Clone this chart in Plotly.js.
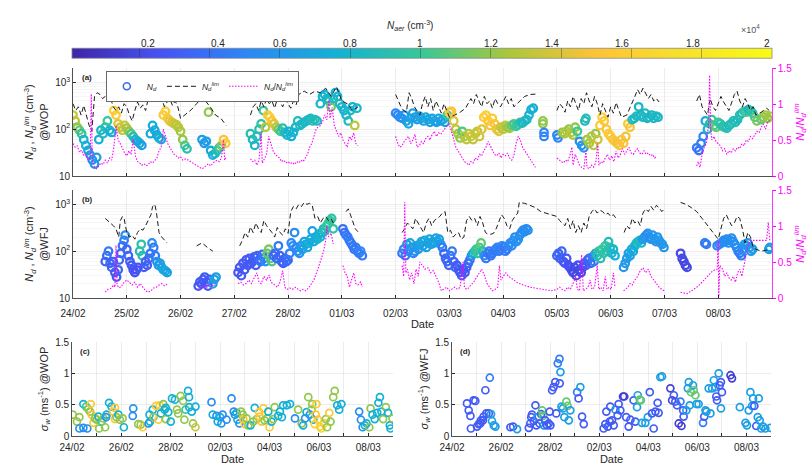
<!DOCTYPE html>
<html><head><meta charset="utf-8">
<script src="https://cdn.plot.ly/plotly-3.0.1.min.js"></script>
<style>html,body{margin:0;padding:0;background:#fff}#chart{width:811px;height:468px}</style>
</head><body><div id="chart"></div>
<script>
// ---- tick labels ----
const dayTicks = [0,1,2,3,4,5,6,7,8,9,10,11,12];
const dayLabels = ['24/02','25/02','26/02','27/02','28/02','01/03','02/03','03/03','04/03','05/03','06/03','07/03','08/03'];
const dayTicks2 = [0,1,2,3,4,5,6,7,8,9,10,11,12,13];
const dayLabels2 = ['24/02','','26/02','','28/02','','02/03','','04/03','','06/03','','08/03',''];
const cbTicks = [0.2,0.4,0.6,0.8,1,1.2,1.4,1.6,1.8,2];
const cbLabels = ['0.2','0.4','0.6','0.8','1','1.2','1.4','1.6','1.8','2'];
const logTicks = [10,100,1000];
const logLabels = ['10','10<sup>2</sup>','10<sup>3</sup>'];
const ratioTicks = [0,0.5,1,1.5];
const ratioLabels = ['0','0.5','1','1.5'];

// ---- panel (a) @WOP : [day since 24/02, Nd (cm-3), Naer (x1e4 cm-3)] ----
const aNdRows = [
[0.00,200,1.35],[0.04,150,1.3],[0.08,110,1.2],[0.12,95,1.1],[0.16,80,0.95],[0.20,60,0.8],[0.24,45,0.75],[0.28,35,0.7],[0.32,28,0.65],[0.36,22,0.55],[0.40,18,0.6],[0.44,25,0.65],[0.48,60,0.75],[0.52,95,0.8],[0.56,80,0.85],[0.60,110,0.9],[0.64,150,1.0],[0.68,95,0.8],[0.72,85,0.75],[0.76,250,1.6],[0.80,200,1.55],[0.84,130,1.4],[0.88,110,1.35],[0.92,95,1.3],[0.96,120,1.35],[1.00,105,1.25],[1.04,90,1.2],[1.08,80,1.05],[1.12,70,0.9],[1.16,60,0.8],[1.20,55,0.75],[1.24,50,0.7],[1.28,45,0.65],
[1.44,80,0.7],[1.48,120,0.75],[1.52,95,0.7],[1.56,75,0.7],[1.60,65,0.75],[1.64,60,0.75],[1.68,200,1.55],[1.72,240,1.6],[1.76,170,1.55],[1.80,150,1.45],[1.84,140,1.4],[1.88,130,1.35],[1.92,125,1.3],[1.96,110,1.3],[2.00,90,1.25],[2.04,60,1.2],[2.08,45,1.05],[2.12,38,0.9],
[2.40,60,0.65],[2.44,50,0.6],[2.48,55,0.65],[2.52,230,1.2],[2.56,35,0.7],[2.60,28,0.75],[2.64,30,0.8],[2.68,35,0.9],[2.72,40,1.0],[2.76,45,1.15],[2.80,60,1.5],[2.84,50,1.55],
[3.30,80,0.9],[3.34,60,0.85],[3.38,45,0.8],[3.42,70,0.9],[3.46,100,0.9],[3.50,130,0.95],[3.54,250,1.0],[3.58,110,1.3],[3.62,200,1.55],[3.66,180,1.6],[3.70,150,1.5],[3.74,130,1.4],[3.78,110,1.3],[3.82,100,1.15],[3.86,90,1.0],[3.90,105,0.9],[3.94,85,0.85],[3.98,75,0.8],[4.02,90,0.75],[4.06,70,0.75],[4.10,85,0.8],[4.14,110,0.8],[4.18,150,0.85],[4.22,120,0.85],[4.26,130,0.85],[4.30,140,0.8],[4.34,150,0.85],[4.38,160,0.8],[4.42,170,0.85],[4.46,150,0.9],[4.50,160,0.85],[4.54,150,0.85],[4.60,350,0.8],[4.64,500,0.8],[4.68,550,0.75],[4.72,450,0.8],[4.76,400,0.85],[4.80,300,1.15],[4.84,450,0.85],[4.88,600,0.75],[4.92,500,0.8],[4.96,350,0.85],[5.00,300,0.8],[5.04,250,0.75],[5.08,200,0.8],[5.12,150,0.85],[5.16,250,0.85],[5.20,300,0.75],[5.24,120,1.3],[5.28,280,0.8],
[6.00,220,0.5],[6.04,200,0.5],[6.08,180,0.55],[6.12,170,0.55],[6.16,200,0.6],[6.20,150,0.6],[6.24,130,0.7],[6.28,170,0.7],[6.32,220,0.65],[6.36,180,0.65],[6.40,160,0.6],[6.44,190,0.65],[6.48,170,0.7],[6.52,150,0.65],[6.56,180,0.7],[6.60,160,0.7],[6.64,140,0.65],[6.68,170,0.65],[6.72,150,0.7],[6.76,140,0.65],[6.80,170,0.7],[6.84,150,0.65],[6.88,160,0.7],[6.92,140,0.65],[6.96,200,1.0],[7.00,230,1.55],[7.04,240,1.5],[7.08,150,1.4],[7.12,100,1.3],[7.16,80,1.25],[7.20,65,1.2],[7.24,90,1.05],[7.28,70,1.25],[7.32,60,1.3],[7.36,80,1.3],[7.40,70,1.35],[7.44,60,1.3],[7.48,80,1.35],[7.52,90,1.3],[7.56,70,1.35],[7.60,100,1.4],[7.64,180,1.55],[7.68,200,1.6],[7.72,150,1.55],[7.76,120,1.5],[7.80,170,1.55],[7.84,130,1.5],[7.88,100,1.45],[7.92,90,1.4],[7.96,110,1.35],[8.00,100,1.3],[8.04,120,1.3],[8.08,110,1.2],[8.12,105,1.25],[8.16,120,1.1],[8.20,130,1.05],[8.24,115,1.0],[8.28,125,0.95],[8.32,140,0.9],[8.36,135,0.85],[8.40,150,0.85],[8.44,160,0.8],[8.48,200,0.8],[8.52,260,0.75],[8.56,280,0.75],
[8.74,150,1.2],[8.74,130,1.2],[8.76,85,0.5],[8.76,70,0.5],
[9.00,75,0.5],[9.02,65,0.5],[9.10,85,1.2],[9.14,80,1.25],[9.18,90,1.3],[9.22,100,1.2],[9.26,85,1.3],[9.30,75,1.25],[9.34,110,1.2],[9.38,90,1.0],[9.42,55,0.55],[9.46,45,0.55],[9.50,40,0.6],[9.52,150,0.8],[9.54,170,0.9],[9.56,60,1.2],[9.60,50,1.25],[9.64,70,1.3],[9.68,45,1.3],[9.72,80,1.2],[9.76,60,1.35],[9.80,120,1.55],[9.84,180,1.6],[9.88,150,1.55],[9.92,100,1.5],[9.96,80,1.55],[10.00,70,1.55],[10.04,60,1.5],[10.08,55,1.5],[10.12,50,1.45],[10.16,45,1.5],[10.20,60,1.5],[10.24,50,1.5],[10.28,70,1.45],[10.32,130,1.55],[10.36,110,1.5],[10.40,160,0.85],[10.44,170,0.8],[10.48,190,0.85],[10.52,300,0.8],[10.56,200,0.8],[10.60,180,0.85],[10.64,220,0.85],[10.68,170,0.8],[10.72,180,0.85],[10.76,200,0.8],[10.80,170,0.85],[10.84,190,0.85],[10.88,180,0.8],
[11.60,40,0.45],[11.64,35,0.4],[11.68,50,0.45],[11.72,70,0.5],[11.76,150,0.7],[11.80,100,0.8],[11.84,130,0.9],[11.88,160,1.0],[11.92,120,1.05],[11.96,110,1.1],[12.00,140,1.0],[12.04,130,0.95],[12.08,115,0.9],[12.12,110,0.95],[12.16,105,0.9],[12.20,120,0.85],[12.24,130,0.9],[12.28,150,0.85],[12.32,140,0.9],[12.36,160,0.85],[12.40,200,0.9],[12.44,220,0.85],[12.48,240,0.95],[12.52,230,1.05],[12.56,260,0.8],[12.60,250,0.9],[12.64,220,0.95],[12.68,180,1.05],[12.72,150,1.15],[12.80,160,1.1],[12.84,180,1.15],[12.88,200,1.25],[12.92,170,1.2],[12.96,190,1.25]
];
// [day, Nd_lim] (null = gap)
const aLimRows = [
[0.00,350],[0.05,250],[0.10,300],[0.15,200],[0.20,320],[0.25,200],[0.30,120],[0.35,90],[0.40,500],[0.45,600],[0.50,550],[0.55,450],[0.60,500],[0.65,600],[0.70,450],[0.75,300],[0.80,250],[0.85,300],[0.90,220],[0.95,350],[1.00,300],[1.05,200],[1.10,150],[1.15,250],[1.20,380],[1.25,280],[1.30,330],[1.35,250],[1.40,450],[1.45,600],[1.50,520],[1.55,400],[1.60,550],[1.65,450],[1.70,300],[1.75,380],[1.80,450],[1.85,320],[1.90,400],[1.95,300],[2.00,170],[2.10,210],[2.20,260],[2.30,350],[2.40,480],[2.45,420],[2.55,300],[2.65,200],[2.75,170],[2.85,120],[2.9,null],
[3.30,200],[3.35,300],[3.40,350],[3.45,250],[3.50,400],[3.55,300],[3.60,450],[3.65,350],[3.70,400],[3.75,280],[3.80,450],[3.85,380],[3.90,300],[3.95,420],[4.00,350],[4.05,280],[4.10,400],[4.15,330],[4.20,550],[4.30,650],[4.40,550],[4.50,650],[4.60,600],[4.70,750],[4.80,500],[4.90,800],[5.00,400],[5.10,350],[5.20,250],[5.30,300],[5.5,null],
[6.00,550],[6.05,400],[6.10,300],[6.15,250],[6.20,230],[6.25,600],[6.30,450],[6.35,300],[6.40,250],[6.45,200],[6.50,350],[6.55,500],[6.60,300],[6.65,450],[6.70,250],[6.75,400],[6.80,300],[6.85,220],[6.90,350],[6.95,250],[7.00,180],[7.10,200],[7.20,230],[7.30,280],[7.35,350],[7.40,450],[7.45,350],[7.50,550],[7.55,400],[7.60,300],[7.65,500],[7.70,350],[7.75,400],[7.80,280],[7.85,450],[7.90,350],[7.95,300],[8.00,400],[8.05,500],[8.10,350],[8.15,450],[8.20,300],[8.30,380],[8.40,500],[8.50,550],[8.60,560],[8.8,null],
[9.00,250],[9.05,350],[9.10,300],[9.15,230],[9.20,400],[9.25,300],[9.30,500],[9.35,350],[9.40,250],[9.45,450],[9.50,350],[9.55,600],[9.60,400],[9.65,300],[9.70,500],[9.75,350],[9.80,200],[9.85,350],[9.90,250],[9.95,180],[10.00,300],[10.05,220],[10.10,370],[10.15,250],[10.20,180],[10.30,200],[10.40,350],[10.45,500],[10.50,700],[10.55,550],[10.60,750],[10.65,600],[10.70,450],[10.75,550],[10.80,400],[10.85,450],[10.90,380],[11.2,null],
[11.60,400],[11.65,550],[11.70,300],[11.75,250],[11.80,200],[11.85,450],[11.90,300],[11.95,250],[12.00,350],[12.05,500],[12.10,380],[12.15,300],[12.20,250],[12.30,550],[12.35,650],[12.40,400],[12.45,300],[12.50,450],[12.55,350],[12.60,250],[12.65,300],[12.70,200],[12.80,230],[12.90,280],[12.95,250]
];
// [day, Nd/Nd_lim]
const aRatioRows = [
[0.00,0.45],[0.04,0.40],[0.08,0.42],[0.12,0.33],[0.16,0.36],[0.20,0.28],[0.24,0.30],[0.28,0.22],[0.32,0.25],[0.34,1.14],[0.36,0.20],[0.40,0.12],[0.44,0.10],[0.48,0.14],[0.52,0.18],[0.56,0.16],[0.60,0.22],[0.64,0.18],[0.68,0.25],[0.72,0.22],[0.76,0.40],[0.80,0.70],[0.84,0.50],[0.88,0.45],[0.92,0.38],[0.96,0.32],[1.00,0.28],[1.04,0.35],[1.08,0.30],[1.12,0.52],[1.16,0.28],[1.20,0.20],[1.24,0.18],[1.28,0.15],[1.32,0.17],[1.36,0.14],[1.40,0.16],[1.44,0.20],[1.48,0.18],[1.52,0.22],[1.56,0.25],[1.60,0.35],[1.64,0.40],[1.68,0.65],[1.72,0.55],[1.76,0.45],[1.80,0.40],[1.84,0.35],[1.88,0.30],[1.92,0.28],[1.96,0.25],[2.00,0.27],[2.04,0.22],[2.10,0.24],[2.40,0.10],[2.44,0.12],[2.48,0.15],[2.52,0.17],[2.56,0.14],[2.60,0.18],[2.64,0.20],[2.68,0.22],[2.72,0.20],[2.76,0.25],[2.80,0.50],[2.82,0.22],[2.85,0.27],[3.0,null],
[3.30,0.24],[3.34,0.20],[3.38,0.22],[3.42,0.15],[3.46,0.22],[3.50,0.60],[3.52,0.18],[3.56,0.24],[3.60,0.30],[3.64,0.55],[3.68,0.45],[3.72,0.35],[3.76,0.30],[3.80,0.28],[3.84,0.25],[3.88,0.20],[3.92,0.22],[3.96,0.18],[4.00,0.20],[4.04,0.17],[4.08,0.19],[4.12,0.16],[4.16,0.20],[4.20,0.18],[4.24,0.22],[4.28,0.20],[4.32,0.25],[4.36,0.30],[4.40,0.40],[4.44,0.45],[4.48,0.55],[4.52,0.65],[4.56,0.68],[4.60,0.70],[4.64,0.75],[4.68,0.85],[4.72,0.78],[4.76,1.05],[4.78,0.80],[4.82,0.95],[4.86,0.70],[4.90,0.62],[4.94,0.55],[4.98,0.60],[5.02,0.50],[5.06,0.45],[5.10,0.40],[5.14,0.55],[5.18,0.50],[5.22,0.60],[5.26,0.45],[5.30,0.42],[5.5,null],
[6.00,0.55],[6.04,0.45],[6.08,0.40],[6.12,0.42],[6.16,0.48],[6.20,0.52],[6.24,0.55],[6.28,0.45],[6.32,0.50],[6.36,0.58],[6.40,0.40],[6.44,0.42],[6.48,0.48],[6.52,0.45],[6.56,0.52],[6.60,0.55],[6.64,0.50],[6.68,0.58],[6.72,0.62],[6.76,0.55],[6.80,0.60],[6.84,0.58],[6.88,0.62],[6.92,0.65],[6.96,0.70],[7.00,0.72],[7.04,0.60],[7.08,0.50],[7.12,0.40],[7.16,0.35],[7.20,0.30],[7.24,0.25],[7.28,0.20],[7.32,0.18],[7.36,0.15],[7.40,0.20],[7.44,0.18],[7.48,0.25],[7.52,0.22],[7.56,0.30],[7.60,0.28],[7.64,0.35],[7.68,0.40],[7.72,0.48],[7.76,0.42],[7.80,0.35],[7.84,0.30],[7.88,0.28],[7.92,0.32],[7.96,0.25],[8.00,0.30],[8.04,0.28],[8.08,0.32],[8.12,0.25],[8.16,0.22],[8.20,0.28],[8.24,0.45],[8.28,0.55],[8.32,0.50],[8.36,0.40],[8.40,0.35],[8.44,0.30],[8.48,0.25],[8.52,0.20],[8.56,0.15],[8.60,0.12],[8.8,null],
[9.00,0.25],[9.04,0.22],[9.08,0.20],[9.12,0.18],[9.16,0.22],[9.20,0.20],[9.24,0.28],[9.28,0.40],[9.30,0.15],[9.34,0.30],[9.38,0.22],[9.42,0.15],[9.46,0.12],[9.50,0.10],[9.54,0.35],[9.56,0.12],[9.60,0.10],[9.64,0.15],[9.68,0.12],[9.72,0.18],[9.76,0.45],[9.78,0.15],[9.82,0.20],[9.86,0.18],[9.90,0.25],[9.94,0.30],[9.98,0.22],[10.02,0.28],[10.06,0.20],[10.10,0.35],[10.14,0.25],[10.18,0.30],[10.22,0.38],[10.26,0.30],[10.30,0.35],[10.34,0.40],[10.38,0.32],[10.42,0.30],[10.46,0.35],[10.50,0.38],[10.54,0.32],[10.58,0.30],[10.62,0.35],[10.66,0.30],[10.70,0.32],[10.74,0.28],[10.78,0.30],[10.82,0.25],[10.86,0.28],[11.2,null],
[11.60,0.14],[11.63,0.20],[11.66,0.12],[11.70,0.30],[11.74,0.40],[11.78,0.45],[11.80,0.60],[11.82,0.70],[11.84,1.40],[11.86,0.65],[11.88,0.50],[11.92,0.55],[11.96,0.48],[12.00,0.45],[12.04,0.42],[12.08,0.35],[12.12,0.38],[12.16,0.30],[12.20,0.35],[12.24,0.32],[12.28,0.38],[12.32,0.35],[12.36,0.40],[12.40,0.38],[12.44,0.45],[12.48,0.42],[12.52,0.50],[12.56,0.48],[12.60,0.55],[12.64,0.52],[12.68,0.58],[12.72,0.62],[12.76,0.60],[12.80,0.68],[12.84,0.72],[12.88,0.65],[12.92,0.75],[12.96,0.78]
];

// ---- panel (b) @WFJ ----
const bNdRows = [
[0.60,60,0.35],[0.63,80,0.35],[0.66,100,0.45],[0.69,55,0.35],[0.72,45,0.33],[0.75,60,0.35],[0.78,35,0.3],[0.81,28,0.3],[0.84,40,0.35],[0.86,65,0.35],[0.89,90,0.35],[0.92,130,0.4],[0.95,170,0.45],[0.97,220,0.55],[1.00,110,0.35],[1.03,80,0.35],[1.06,60,0.3],[1.09,50,0.28],[1.12,40,0.25],[1.15,35,0.25],[1.18,40,0.25],[1.21,45,0.28],[1.24,100,0.9],[1.27,140,0.95],[1.29,80,0.9],[1.32,45,0.3],[1.35,60,0.35],[1.38,50,0.3],[1.41,70,0.35],[1.44,90,0.4],[1.47,150,0.55],[1.50,120,0.45],[1.53,80,0.45],[1.56,60,0.55],[1.59,50,0.6],[1.62,55,0.65],[1.65,45,0.65],[1.68,40,0.7],[1.72,38,0.7],[1.75,35,0.65],
[2.33,18,0.28],[2.36,22,0.28],[2.39,20,0.3],[2.42,25,0.3],[2.45,28,0.3],[2.48,22,0.28],[2.51,18,0.28],[2.54,25,0.3],[2.60,20,0.65],[2.63,25,0.65],[2.66,28,0.65],
[3.07,35,0.28],[3.10,45,0.28],[3.13,30,0.28],[3.16,55,0.28],[3.19,40,0.28],[3.22,65,0.3],[3.25,50,0.3],[3.28,70,0.28],[3.31,55,0.28],[3.34,60,0.3],[3.37,75,0.3],[3.40,50,0.3],[3.43,80,0.35],[3.46,65,0.35],[3.49,60,0.4],[3.52,85,0.35],[3.55,70,0.45],[3.58,60,0.55],[3.61,90,1.1],[3.64,110,1.15],[3.67,70,1.1],[3.70,60,1.05],[3.73,80,0.4],[3.76,90,0.35],[3.79,70,0.35],[3.82,130,0.45],[3.85,80,0.35],[3.88,60,0.35],[3.91,55,0.3],[3.94,70,0.35],[3.97,60,0.35],[4.00,65,0.4],[4.03,90,0.45],[4.06,150,0.5],[4.09,130,0.55],[4.12,250,0.55],[4.15,120,0.5],[4.18,100,0.55],[4.21,90,0.55],[4.24,130,0.6],[4.27,110,0.65],[4.30,160,0.65],[4.33,140,0.7],[4.36,120,0.7],[4.39,150,0.75],[4.42,180,0.7],[4.45,270,0.65],[4.48,160,0.7],[4.51,200,0.75],[4.54,180,0.75],[4.57,230,0.75],[4.60,200,0.8],[4.63,250,0.75],[4.66,300,0.85],[4.69,280,0.9],[4.72,350,0.95],[4.75,400,1.0],[4.78,450,1.0],[4.81,500,0.95],[4.84,300,0.95],
[5.02,300,0.4],[5.05,250,0.4],[5.08,220,0.45],[5.11,200,0.45],[5.14,170,0.45],[5.17,150,0.45],[5.20,130,0.45],[5.23,110,0.4],[5.26,120,0.45],[5.29,100,0.45],[5.32,90,0.45],[5.35,100,0.5],[5.38,80,0.45],
[6.12,90,0.45],[6.15,110,0.5],[6.18,80,0.45],[6.21,140,0.65],[6.24,100,0.55],[6.27,150,0.7],[6.30,120,0.6],[6.33,90,0.5],[6.36,100,0.55],[6.39,130,0.65],[6.42,110,0.6],[6.45,140,0.65],[6.48,160,0.7],[6.51,130,0.65],[6.54,170,0.7],[6.57,120,0.65],[6.60,150,0.65],[6.63,180,0.7],[6.66,140,0.65],[6.69,160,0.7],[6.72,150,0.65],[6.75,190,0.65],[6.78,160,0.7],[6.81,180,0.65],[6.84,140,0.6],[6.87,120,0.45],[6.90,90,0.35],[6.93,70,0.35],[6.96,60,0.35],[6.99,50,0.35],[7.02,80,0.4],[7.05,100,0.45],[7.08,60,0.35],[7.11,45,0.35],[7.14,50,0.3],[7.17,40,0.3],[7.20,35,0.28],[7.23,30,0.28],[7.26,40,0.28],[7.29,35,0.3],[7.32,45,0.3],[7.35,55,0.35],[7.38,65,0.4],[7.41,80,0.55],[7.44,90,0.7],[7.47,100,0.9],[7.50,110,1.0],[7.53,90,1.0],[7.56,120,1.05],[7.59,150,1.1],[7.62,100,0.9],[7.65,80,0.55],[7.68,70,0.45],[7.71,90,0.45],[7.74,100,0.45],[7.77,80,0.4],[7.80,90,0.45],[7.83,100,0.45],[7.86,110,0.45],[7.89,120,0.5],[7.92,100,0.45],[7.95,110,0.45],[7.98,130,0.5],[8.01,120,0.45],[8.04,100,0.45],[8.07,110,0.45],[8.10,130,0.5],[8.13,150,0.55],[8.16,130,0.5],[8.19,170,0.55],[8.22,200,0.55],[8.25,160,0.55],[8.28,180,0.6],[8.31,220,0.55],[8.34,250,0.55],[8.37,280,0.55],[8.40,260,0.55],[8.43,300,0.55],[8.46,280,0.55],
[9.00,80,0.35],[9.03,90,0.35],[9.06,70,0.3],[9.09,100,0.35],[9.12,60,0.3],[9.15,55,0.28],[9.18,70,0.28],[9.21,50,0.25],[9.24,45,0.25],[9.27,40,0.25],[9.30,35,0.2],[9.33,45,0.2],[9.36,30,0.2],[9.39,50,0.25],[9.42,40,0.2],[9.45,35,0.2],[9.48,45,0.25],[9.51,55,0.28],[9.54,50,0.28],[9.57,65,0.33],[9.60,70,0.35],[9.63,55,0.35],[9.66,75,0.45],[9.69,60,0.45],[9.72,90,0.7],[9.75,80,0.9],[9.78,100,0.95],[9.81,70,0.9],[9.84,110,1.0],[9.87,90,0.95],[9.90,130,1.0],[9.93,100,0.9],[9.96,160,0.9],[9.99,120,0.9],[10.02,90,0.85],[10.05,110,0.8],[10.08,80,0.75],
[10.24,45,0.6],[10.27,55,0.6],[10.30,70,0.65],[10.33,90,0.65],[10.36,80,0.65],[10.39,110,0.7],[10.42,100,0.7],[10.45,130,0.75],[10.48,150,0.8],[10.51,160,0.85],[10.54,170,0.85],[10.57,150,0.8],[10.60,180,0.6],[10.63,200,0.6],[10.66,220,0.55],[10.69,240,0.55],[10.72,200,0.55],[10.75,180,0.55],[10.78,220,0.6],[10.81,180,0.6],[10.84,160,0.6],[10.87,200,0.6],[10.90,170,0.6],[10.93,150,0.6],[10.96,140,0.6],[10.99,120,0.6],
[11.30,90,0.22],[11.33,70,0.2],[11.36,60,0.2],[11.39,50,0.2],[11.42,45,0.22],
[11.75,150,0.45],[11.78,140,0.45],[11.98,130,0.5],[12.02,140,0.5],[12.06,150,0.55],[12.10,170,0.55],[12.13,160,0.55],[12.16,180,0.55],[12.19,150,0.55],[12.22,170,0.55],[12.25,190,0.55],[12.28,160,0.55],[12.31,140,0.55],[12.34,120,0.55],[12.37,100,0.5],[12.40,90,0.45],[12.43,80,0.45],[12.46,110,0.55],[12.49,140,0.6],[12.52,130,0.6],[12.55,150,0.6],[12.58,120,0.6],[12.61,100,0.6],[12.64,110,0.65],[12.94,110,0.65],[12.96,120,0.65]
];
const bLimRows = [
[0.60,500],[0.65,450],[0.70,400],[0.75,350],[0.80,300],[0.85,200],[0.88,450],[0.92,550],[0.95,500],[1.00,250],[1.05,200],[1.10,220],[1.15,180],[1.20,250],[1.25,300],[1.30,280],[1.35,350],[1.40,450],[1.45,600],[1.48,900],[1.52,1000],[1.55,700],[1.60,250],[1.65,200],[1.70,170],[1.75,150],[2.0,null],
[2.30,130],[2.40,150],[2.50,120],[2.60,100],[2.8,null],
[3.10,130],[3.15,170],[3.20,250],[3.25,200],[3.30,330],[3.35,250],[3.40,400],[3.45,300],[3.50,250],[3.55,450],[3.60,350],[3.65,300],[3.70,250],[3.75,200],[3.80,320],[3.85,250],[3.90,220],[3.95,300],[4.00,240],[4.05,700],[4.10,900],[4.15,800],[4.20,1000],[4.25,900],[4.30,1100],[4.35,1000],[4.40,1050],[4.45,950],[4.50,500],[4.55,550],[4.60,400],[4.65,500],[4.70,550],[4.75,450],[4.80,500],[4.84,400],[4.95,null],
[5.08,700],[5.12,800],[5.16,600],[5.20,450],[5.25,300],[5.30,260],[5.6,null],
[6.12,250],[6.17,300],[6.22,400],[6.27,350],[6.32,300],[6.37,500],[6.42,400],[6.47,300],[6.52,250],[6.57,400],[6.62,500],[6.67,350],[6.72,450],[6.77,500],[6.82,550],[6.87,650],[6.92,700],[6.97,250],[7.02,280],[7.07,200],[7.12,230],[7.17,250],[7.22,180],[7.27,200],[7.32,450],[7.37,550],[7.42,450],[7.47,500],[7.52,350],[7.57,550],[7.62,400],[7.67,250],[7.72,230],[7.77,230],[7.82,240],[7.87,300],[7.92,450],[7.97,600],[8.02,500],[8.07,350],[8.12,300],[8.17,450],[8.22,550],[8.27,650],[8.30,1100],[8.40,1050],[8.50,950],[8.60,850],[8.70,700],[8.80,650],[8.90,600],[9.00,550],[9.05,450],[9.10,400],[9.15,350],[9.20,500],[9.25,300],[9.30,450],[9.35,250],[9.40,350],[9.45,250],[9.50,400],[9.55,300],[9.60,550],[9.65,700],[9.70,800],[9.75,650],[9.80,750],[9.85,700],[9.90,600],[9.95,650],[10.00,550],[10.05,600],[10.10,500],[10.17,null],
[10.25,250],[10.30,350],[10.35,300],[10.40,500],[10.45,400],[10.50,450],[10.55,350],[10.60,650],[10.65,800],[10.70,700],[10.75,900],[10.80,750],[10.85,950],[10.90,850],[10.95,700],[11.00,800],[11.15,null],
[11.30,1100],[11.40,1000],[11.50,850],[11.60,700],[11.70,500],[11.80,350],[11.90,250],[12.00,180],[12.10,500],[12.15,600],[12.20,450],[12.25,350],[12.30,400],[12.35,550],[12.40,500],[12.45,300],[12.50,150],[12.55,250],[12.60,200],[12.65,120],[12.70,110],[12.80,100],[12.90,105],[12.96,100]
];
const bRatioRows = [
[0.60,0.08],[0.65,0.12],[0.70,0.13],[0.75,0.18],[0.78,0.15],[0.80,0.73],[0.82,0.18],[0.86,0.14],[0.90,0.16],[0.95,0.22],[1.00,0.25],[1.05,0.22],[1.10,0.18],[1.15,0.22],[1.20,0.15],[1.25,0.20],[1.30,0.15],[1.35,0.10],[1.40,0.08],[1.45,0.10],[1.50,0.14],[1.55,0.15],[1.60,0.18],[1.65,0.20],[1.70,0.17],[1.75,0.19],[2.0,null],
[2.33,0.12],[2.38,0.14],[2.43,0.16],[2.48,0.14],[2.53,0.18],[2.60,0.16],[2.66,0.20],[2.8,null],
[3.07,0.20],[3.12,0.22],[3.17,0.18],[3.22,0.20],[3.27,0.25],[3.32,0.20],[3.37,0.28],[3.42,0.35],[3.46,0.22],[3.50,0.20],[3.55,0.30],[3.60,0.25],[3.65,0.32],[3.68,0.22],[3.72,0.20],[3.76,0.18],[3.80,0.15],[3.85,0.22],[3.90,0.38],[3.94,0.15],[3.98,0.12],[4.03,0.14],[4.08,0.12],[4.13,0.15],[4.18,0.12],[4.23,0.10],[4.28,0.12],[4.33,0.10],[4.38,0.14],[4.43,0.20],[4.48,0.25],[4.53,0.35],[4.58,0.45],[4.62,0.55],[4.66,0.65],[4.70,0.80],[4.72,1.00],[4.75,0.85],[4.80,0.90],[4.84,0.75],[4.95,null],
[5.02,0.45],[5.06,0.35],[5.10,0.30],[5.14,0.15],[5.18,0.25],[5.22,0.35],[5.26,0.20],[5.30,0.18],[5.35,0.22],[5.38,0.15],[5.6,null],
[6.12,0.45],[6.15,0.30],[6.17,1.33],[6.19,0.35],[6.22,0.40],[6.26,0.25],[6.30,0.35],[6.34,0.20],[6.38,0.40],[6.42,0.30],[6.45,0.50],[6.50,0.45],[6.55,0.40],[6.60,0.42],[6.65,0.35],[6.70,0.38],[6.75,0.30],[6.80,0.22],[6.85,0.10],[6.90,0.12],[6.95,0.15],[7.00,0.10],[7.05,0.13],[7.10,0.15],[7.15,0.12],[7.20,0.15],[7.25,0.50],[7.28,0.15],[7.32,0.12],[7.36,0.14],[7.40,0.18],[7.45,0.22],[7.50,0.28],[7.55,0.35],[7.60,0.40],[7.65,0.32],[7.70,0.20],[7.75,0.15],[7.80,0.10],[7.85,0.12],[7.90,0.15],[7.93,0.45],[7.96,0.25],[8.00,0.30],[8.05,0.35],[8.10,0.30],[8.15,0.28],[8.20,0.25],[8.25,0.22],[8.30,0.20],[8.50,0.15],[8.70,0.12],[8.90,0.10],[9.00,0.12],[9.05,0.15],[9.10,0.12],[9.15,0.10],[9.20,0.15],[9.25,0.12],[9.30,0.20],[9.35,0.30],[9.38,0.12],[9.42,0.10],[9.46,0.60],[9.49,0.10],[9.53,0.12],[9.58,0.15],[9.62,0.25],[9.65,0.12],[9.70,0.15],[9.75,0.45],[9.78,0.12],[9.82,0.15],[9.86,0.10],[9.90,0.30],[9.93,0.12],[9.97,0.15],[10.01,0.12],[10.05,0.35],[10.08,0.15],[10.17,null],
[10.24,0.10],[10.28,0.12],[10.32,0.15],[10.36,0.20],[10.40,0.18],[10.45,0.25],[10.50,0.30],[10.55,0.38],[10.60,0.42],[10.65,0.35],[10.70,0.40],[10.75,0.30],[10.80,0.25],[10.85,0.20],[10.90,0.15],[10.95,0.12],[11.00,0.10],[11.15,null],
[11.30,0.08],[11.35,0.07],[11.42,0.06],[11.50,0.10],[11.60,0.15],[11.70,0.22],[11.80,0.30],[11.90,0.38],[11.98,0.40],[12.00,0.80],[12.01,0.02],[12.03,0.45],[12.08,0.40],[12.12,0.30],[12.16,0.35],[12.20,0.28],[12.24,0.25],[12.28,0.30],[12.32,0.22],[12.36,0.35],[12.40,0.40],[12.44,0.30],[12.48,0.45],[12.52,0.60],[12.55,0.72],[12.60,0.80],[12.70,0.80],[12.80,0.80],[12.90,0.80],[12.93,1.05],[12.96,0.80]
];

// ---- panel (c) sigma_w @WOP : [day, sigma_w (m/s), Naer (x1e4)] ----
const cRows = [
[0.03,0.34,1.2],[0.2,0.23,1.2],[0.3,0.30,1.2],[0.3,0.12,0.6],[0.46,0.13,0.55],[0.62,0.12,0.55],[0.46,0.51,0.75],[0.57,0.47,1.0],[0.66,0.43,1.2],[0.73,0.39,1.2],[0.76,0.51,1.55],[0.8,0.34,1.5],[0.87,0.21,1.55],[0.93,0.28,1.2],[1.0,0.26,1.2],[1.07,0.31,0.75],[1.1,0.12,1.2],[1.2,0.23,1.0],[1.27,0.28,1.2],[1.38,0.30,0.55],[1.34,0.14,1.2],[1.4,0.34,0.75],[1.5,0.53,0.75],[1.6,0.47,0.75],[1.67,0.39,1.55],[1.74,0.45,1.55],[1.74,0.27,1.55],[1.8,0.30,1.2],[1.88,0.34,0.75],[1.94,0.26,1.2],[2.05,0.28,1.2],[2.1,0.14,0.75],[2.48,0.44,0.6],[2.46,0.32,0.55],[2.68,0.19,1.2],[2.78,0.18,1.2],[2.86,0.14,1.55],
[3.1,0.20,0.55],[3.16,0.23,0.75],[3.14,0.34,0.75],[3.27,0.42,0.75],[3.3,0.30,1.2],[3.4,0.48,1.55],[3.5,0.26,1.55],[3.55,0.49,1.55],[3.6,0.36,0.75],[3.7,0.51,1.2],[3.75,0.42,0.75],[3.8,0.45,0.75],[3.8,0.27,1.2],[3.9,0.38,0.75],[4.0,0.23,0.75],[4.05,0.60,0.75],[4.17,0.58,0.75],[4.25,0.42,1.2],[4.3,0.36,1.2],[4.4,0.64,1.2],[4.5,0.56,1.2],[4.6,0.42,1.0],[4.55,0.26,1.2],[4.7,0.72,0.75],[4.74,0.62,0.75],[4.75,0.46,0.75],[4.85,0.39,0.75],[4.9,0.20,1.2],[5.0,0.14,1.35],[5.0,0.47,0.75],
[5.65,0.54,0.55],[5.7,0.34,0.75],[5.85,0.32,0.55],[5.9,0.23,0.75],[6.0,0.30,0.75],[6.05,0.20,0.6],[6.1,0.34,0.55],[6.26,0.26,0.55],[6.46,0.60,0.55],[6.55,0.39,0.55],[6.6,0.34,0.55],[6.67,0.37,0.75],[6.7,0.26,0.75],[6.78,0.20,0.55],[6.85,0.39,1.2],[6.92,0.34,1.2],[6.94,0.27,1.55],[7.0,0.19,1.55],[7.07,0.28,1.2],[7.14,0.17,1.2],[7.23,0.17,0.75],[7.34,0.23,1.2],[7.4,0.45,0.75],[7.48,0.27,1.2],[7.58,0.38,1.55],[7.6,0.31,1.55],[7.68,0.23,1.5],[7.75,0.44,1.55],[7.8,0.25,1.2],[7.9,0.28,1.2],[7.95,0.39,0.75],[8.0,0.14,1.55],[8.08,0.23,0.75],[8.15,0.27,1.2],[8.21,0.46,1.2],[8.35,0.32,0.75],[8.42,0.39,0.75],[8.5,0.30,0.75],[8.55,0.49,0.75],[8.7,0.49,0.75],[8.83,0.51,0.75],
[9.03,0.28,0.55],[9.16,0.42,1.2],[9.3,0.20,1.2],[9.36,0.17,0.75],[9.44,0.28,0.55],[9.5,0.38,0.75],[9.57,0.62,1.2],[9.63,0.34,0.55],[9.7,0.42,1.2],[9.73,0.51,1.2],[9.77,0.26,0.75],[9.83,0.19,1.65],[9.87,0.34,1.55],[9.9,0.51,1.55],[9.96,0.26,1.55],[10.04,0.15,1.65],[10.1,0.12,1.65],[10.2,0.20,1.55],[10.28,0.27,1.2],[10.33,0.14,1.2],[10.42,0.37,1.55],[10.47,0.23,1.2],[10.58,0.62,1.2],[10.64,0.72,1.2],[10.74,0.49,0.75],[10.82,0.42,0.75],[10.91,0.51,0.75],
[11.63,0.39,0.55],[11.7,0.26,0.55],[11.77,0.14,0.55],[11.86,0.17,0.75],[11.93,0.20,0.75],[12.04,0.14,1.2],[12.09,0.44,1.2],[12.17,0.34,0.75],[12.26,0.27,0.75],[12.36,0.37,0.75],[12.41,0.53,0.75],[12.47,0.62,0.75],[12.53,0.39,0.75],[12.6,0.27,1.2],[12.71,0.46,1.2],[12.8,0.37,0.75],[12.87,0.17,0.75],[12.9,0.12,0.75],[12.98,0.28,1.2]
];
// ---- panel (d) sigma_w @WFJ ----
const dRows = [
[0.61,0.52,0.3],[0.68,0.41,0.3],[0.75,0.32,0.3],[0.77,0.12,0.3],[0.88,0.57,0.3],[0.95,0.56,0.3],[1.02,0.15,0.3],[1.09,0.19,0.3],[1.15,0.20,0.3],[1.18,0.25,0.3],[1.26,0.25,0.3],[1.29,0.31,0.3],[1.36,0.73,0.3],[1.4,0.36,0.3],[1.5,0.36,0.3],[1.54,0.93,0.45],[1.59,0.35,0.65],[1.63,0.24,0.65],[1.7,0.17,0.65],[1.77,0.15,0.65],
[2.38,0.14,0.3],[2.49,0.15,0.3],[2.65,0.11,0.65],
[3.13,0.13,0.3],[3.19,0.20,0.3],[3.23,0.30,0.3],[3.26,0.34,0.3],[3.33,0.24,0.3],[3.4,0.49,0.3],[3.44,0.17,0.3],[3.49,0.30,0.65],[3.57,0.20,0.3],[3.63,0.35,0.3],[3.67,0.41,1.1],[3.71,0.32,1.1],[3.74,0.17,0.65],[3.8,0.25,0.3],[3.87,0.17,0.3],[3.94,0.20,0.3],[3.98,0.39,0.3],[4.01,0.17,0.3],[4.08,0.73,0.3],[4.14,0.78,0.3],[4.21,0.86,0.3],[4.25,0.36,0.3],[4.31,1.16,0.45],[4.38,1.23,0.45],[4.42,1.02,0.65],[4.39,0.84,0.3],[4.46,0.47,0.65],[4.52,0.44,0.65],[4.58,0.30,0.65],[4.66,0.55,1.1],[4.71,0.48,1.1],[4.76,0.25,0.65],[4.82,0.41,0.65],[5.1,0.70,0.45],[5.16,0.60,0.3],[5.23,0.78,0.65],[5.3,0.31,0.3],[5.37,0.19,0.3],
[6.18,0.12,0.3],[6.25,0.19,0.3],[6.29,0.39,0.3],[6.35,0.15,0.3],[6.43,0.23,0.3],[6.45,0.47,0.3],[6.52,0.25,0.3],[6.59,0.17,0.3],[6.66,0.42,0.65],[6.75,0.33,0.3],[6.79,0.51,0.3],[6.86,0.41,0.3],[6.97,0.63,0.15],[7.02,0.63,0.15],[7.1,0.30,0.3],[7.2,0.15,0.3],[7.27,0.26,0.3],[7.4,0.57,0.3],[7.47,0.23,0.3],[7.54,0.46,0.65],[7.57,0.65,0.65],[7.65,0.58,1.1],[7.7,0.57,1.1],[7.74,0.21,0.65],[7.88,0.21,0.65],[7.98,0.30,0.65],[8.06,0.70,0.3],[8.15,0.36,0.3],[8.22,0.12,0.3],[8.29,0.39,0.3],[8.38,0.53,0.3],[8.42,0.37,0.3],[8.49,0.94,0.65],[8.56,0.95,0.65],
[8.9,0.76,0.18],[8.97,0.57,0.18],[9.04,0.65,0.3],[9.1,0.55,0.3],[9.17,0.49,0.3],[9.24,0.20,0.15],[9.31,0.55,0.45],[9.35,0.16,0.15],[9.42,0.41,0.3],[9.44,0.31,0.3],[9.55,0.41,0.65],[9.61,0.76,0.65],[9.65,0.86,0.65],[9.69,0.49,0.65],[9.74,0.70,1.1],[9.82,0.81,0.65],[9.85,0.73,1.1],[9.92,0.65,1.1],[9.96,0.51,0.65],[10.05,0.51,0.65],[10.23,0.21,0.45],[10.28,0.31,0.3],[10.33,0.41,0.65],[10.37,0.39,0.65],[10.46,0.76,0.65],[10.53,0.36,0.65],[10.6,0.76,0.65],[10.67,0.89,0.65],[10.73,0.78,0.65],[10.77,0.63,0.3],[10.8,0.57,0.3],[10.87,1.00,0.65],[10.91,0.81,0.3],[10.96,0.86,0.3],[10.96,0.44,0.65],[11.0,0.70,0.3],[11.35,0.97,0.15],[11.41,0.92,0.15],
[11.73,0.46,0.65],[11.96,0.21,0.65],[12.02,0.17,0.65],[12.09,0.41,0.65],[12.16,0.70,0.65],[12.23,0.48,0.65],[12.27,0.60,0.65],[12.32,0.48,0.3],[12.4,0.16,0.3],[12.46,0.30,0.65],[12.5,0.60,0.65],[12.54,0.25,0.65],[12.6,0.12,0.65],[12.68,0.15,0.65],[12.77,0.12,0.65],[12.98,0.13,0.65]
];

// ---- helpers ----
const col = (rows, i) => rows.map(r => r[i]);
// parula-like colour map
const parula = [[0,'#3e26a8'],[0.125,'#4752f4'],[0.25,'#2d87f7'],[0.375,'#12b1d6'],[0.5,'#37c897'],[0.625,'#abc739'],[0.75,'#fec338'],[0.875,'#f6e22a'],[1,'#f9fb15']];
const CMIN = 0.009, CMAX = 2;
const MAG = '#ff00ff';
const FONT = 'Liberation Sans, Arial, sans-serif';
const TXT = '#262626';

const nd = (rows, xa, ya) => ({x: col(rows,0), y: col(rows,1), xaxis: xa, yaxis: ya, type: 'scatter', mode: 'markers', showlegend: false,
  marker: {symbol: 'circle-open', size: 7.5, color: col(rows,2), coloraxis: 'coloraxis', line: {width: 2.3}}});
const lim = (rows, xa, ya) => ({x: col(rows,0), y: col(rows,1), xaxis: xa, yaxis: ya, type: 'scatter', mode: 'lines', showlegend: false, connectgaps: false,
  line: {color: '#1a1a1a', width: 1, dash: '5px,3px'}});
const rat = (rows, xa, ya) => ({x: col(rows,0), y: col(rows,1), xaxis: xa, yaxis: ya, type: 'scatter', mode: 'lines', showlegend: false, connectgaps: false,
  line: {color: MAG, width: 1.1, dash: '1.5px,1.5px'}});
const sig = (rows, xa, ya) => ({x: col(rows,0), y: col(rows,1), xaxis: xa, yaxis: ya, type: 'scatter', mode: 'markers', showlegend: false,
  marker: {symbol: 'circle-open', size: 7, color: col(rows,2), coloraxis: 'coloraxis', line: {width: 1.7}}});

const traces = [
  nd(aNdRows,'x','y'), lim(aLimRows,'x','y'), rat(aRatioRows,'x','y2'),
  nd(bNdRows,'x2','y3'), lim(bLimRows,'x2','y3'), rat(bRatioRows,'x2','y4'),
  sig(cRows,'x3','y5'), sig(dRows,'x4','y6'),
  // legend entries
  {x:[null], y:[null], xaxis:'x', yaxis:'y', type:'scatter', mode:'markers', name:'<i>N</i><sub><i>d</i></sub>',
    marker:{symbol:'circle-open', size:7, color:'#3a6fe8', line:{width:1.6}}},
  {x:[null], y:[null], xaxis:'x', yaxis:'y', type:'scatter', mode:'lines', name:'<i>N</i><sub><i>d</i></sub><sup><i>lim</i></sup>',
    line:{color:'#1a1a1a', width:1, dash:'5px,3px'}},
  {x:[null], y:[null], xaxis:'x', yaxis:'y2', type:'scatter', mode:'lines', name:'<i>N</i><sub><i>d</i></sub>/<i>N</i><sub><i>d</i></sub><sup><i>lim</i></sup>',
    line:{color:MAG, width:1.1, dash:'1.5px,1.5px'}}
];

const minorLog = [20,30,40,50,60,70,80,90,200,300,400,500,600,700,800,900,2000];
const baseX = {range:[0,13], showline:true, linecolor:TXT, linewidth:0.8, ticks:'inside', ticklen:3, tickcolor:TXT,
  showgrid:true, gridcolor:'#e4e4e4', gridwidth:0.7, zeroline:false, tickfont:{size:10, color:TXT}};
const logY = (dom, anchor, title) => ({domain:dom, anchor:anchor, type:'log', range:[1,3.306], tickvals:logTicks, ticktext:logLabels,
  showline:true, linecolor:TXT, linewidth:0.8, ticks:'inside', ticklen:3, tickcolor:TXT, showgrid:true, gridcolor:'#e4e4e4', gridwidth:0.7,
  minor:{tickvals:minorLog, showgrid:true, gridcolor:'#f0f0f0', gridwidth:0.6, ticks:''}, zeroline:false, tickfont:{size:10, color:TXT},
  title:{text:title, font:{size:11, color:TXT}, standoff:4}});
const ratioY = (anchor, over) => ({overlaying:over, anchor:anchor, side:'right', range:[0,1.5], tickvals:ratioTicks, ticktext:ratioLabels,
  showline:true, linecolor:MAG, linewidth:0.8, ticks:'outside', ticklen:3, tickcolor:MAG, showgrid:false, zeroline:false,
  tickfont:{size:10, color:MAG}, title:{text:'<i>N</i><sub><i>d</i></sub>/<i>N</i><sub><i>d</i></sub><sup><i>lim</i></sup>', font:{size:11, color:MAG}, standoff:4}});
const sigY = (dom, anchor, title) => ({domain:dom, anchor:anchor, range:[0,1.5], tickvals:ratioTicks, ticktext:ratioLabels,
  showline:true, linecolor:TXT, linewidth:0.8, ticks:'inside', ticklen:3, tickcolor:TXT, showgrid:true, gridcolor:'#e4e4e4', gridwidth:0.7,
  zeroline:false, tickfont:{size:10, color:TXT}, title:{text:title, font:{size:11, color:TXT}, standoff:4}});

const yA = [1-176/468, 1-68/468], yB = [1-298/468, 1-190/468], yCD = [1-436/468, 1-342/468];
const xAB = [73/811, 772/811], xC = [72/811, 393/811], xD = [452/811, 771/811];

const ndTitle = (site) => '<i>N</i><sub><i>d</i></sub> , <i>N</i><sub><i>d</i></sub><sup><i>lim</i></sup> (cm<sup>-3</sup>)<br>@' + site;
const sigTitle = (site) => '<i>σ</i><sub><i>w</i></sub> (ms<sup>-1</sup>) @' + site;

const annotations = [
  {xref:'x domain', yref:'y domain', x:0.01, y:0.97, xanchor:'left', yanchor:'top', text:'<b>(a)</b>', showarrow:false, font:{size:8, color:TXT}},
  {xref:'x2 domain', yref:'y3 domain', x:0.01, y:0.97, xanchor:'left', yanchor:'top', text:'<b>(b)</b>', showarrow:false, font:{size:8, color:TXT}},
  {xref:'x3 domain', yref:'y5 domain', x:0.02, y:0.97, xanchor:'left', yanchor:'top', text:'<b>(c)</b>', showarrow:false, font:{size:8, color:TXT}},
  {xref:'x4 domain', yref:'y6 domain', x:0.02, y:0.97, xanchor:'left', yanchor:'top', text:'<b>(d)</b>', showarrow:false, font:{size:8, color:TXT}},
  {xref:'paper', yref:'paper', x:410/811, y:1-17/468, text:'<i>N</i><sub><i>aer</i></sub> (cm<sup>-3</sup>)', showarrow:false, font:{size:10, color:TXT}},
  {xref:'paper', yref:'paper', x:762/811, y:1-21/468, text:'×10<sup>4</sup>', showarrow:false, font:{size:9, color:'#555'}}
];
cbTicks.forEach((v, i) => {
  annotations.push({xref:'paper', yref:'paper', x:(72 + (v - CMIN)/(CMAX - CMIN)*700)/811, y:1-36/468, text:cbLabels[i],
    showarrow:false, font:{size:10, color:TXT}});
});

const layout = {
  width:811, height:468, margin:{l:0, r:0, t:0, b:0}, paper_bgcolor:'#fff', plot_bgcolor:'#fff',
  font:{family:FONT, color:TXT}, hovermode:false,
  coloraxis:{colorscale:parula, cmin:CMIN, cmax:CMAX, colorbar:{orientation:'h', x:(72+772)/2/811, xanchor:'center',
    y:1-69/468, yanchor:'bottom', len:700/811, lenmode:'fraction', thickness:10, xpad:0, ypad:0,
    showticklabels:false, ticks:'inside', tickvals:cbTicks, ticklen:10, tickcolor:'rgba(40,40,40,0.45)', tickwidth:0.8,
    outlinewidth:0.8, outlinecolor:'#888'}},
  legend:{x:106/811, y:1-71/468, xanchor:'left', yanchor:'top', orientation:'h', bgcolor:'#fff', bordercolor:'#444', borderwidth:0.8,
    font:{size:8.5, color:TXT}, itemwidth:30, tracegroupgap:0},
  xaxis: Object.assign({}, baseX, {domain:xAB, anchor:'y', tickvals:dayTicks, showticklabels:false}),
  yaxis: logY(yA, 'x', ndTitle('WOP')),
  yaxis2: ratioY('x', 'y'),
  xaxis2: Object.assign({}, baseX, {domain:xAB, anchor:'y3', tickvals:dayTicks, ticktext:dayLabels, ticklabelstandoff:6,
    title:{text:'Date', font:{size:11, color:TXT}, standoff:2}}),
  yaxis3: logY(yB, 'x2', ndTitle('WFJ')),
  yaxis4: ratioY('x2', 'y3'),
  xaxis3: Object.assign({}, baseX, {domain:xC, anchor:'y5', tickvals:dayTicks2, ticktext:dayLabels2, ticklabelstandoff:2,
    title:{text:'Date', font:{size:11, color:TXT}, standoff:2}}),
  yaxis5: sigY(yCD, 'x3', sigTitle('WOP')),
  xaxis4: Object.assign({}, baseX, {domain:xD, anchor:'y6', tickvals:dayTicks2, ticktext:dayLabels2, ticklabelstandoff:2,
    title:{text:'Date', font:{size:11, color:TXT}, standoff:2}}),
  yaxis6: sigY(yCD, 'x4', sigTitle('WFJ')),
  annotations: annotations
};

Plotly.newPlot('chart', traces, layout, {staticPlot:true, displayModeBar:false});
</script></body></html>
